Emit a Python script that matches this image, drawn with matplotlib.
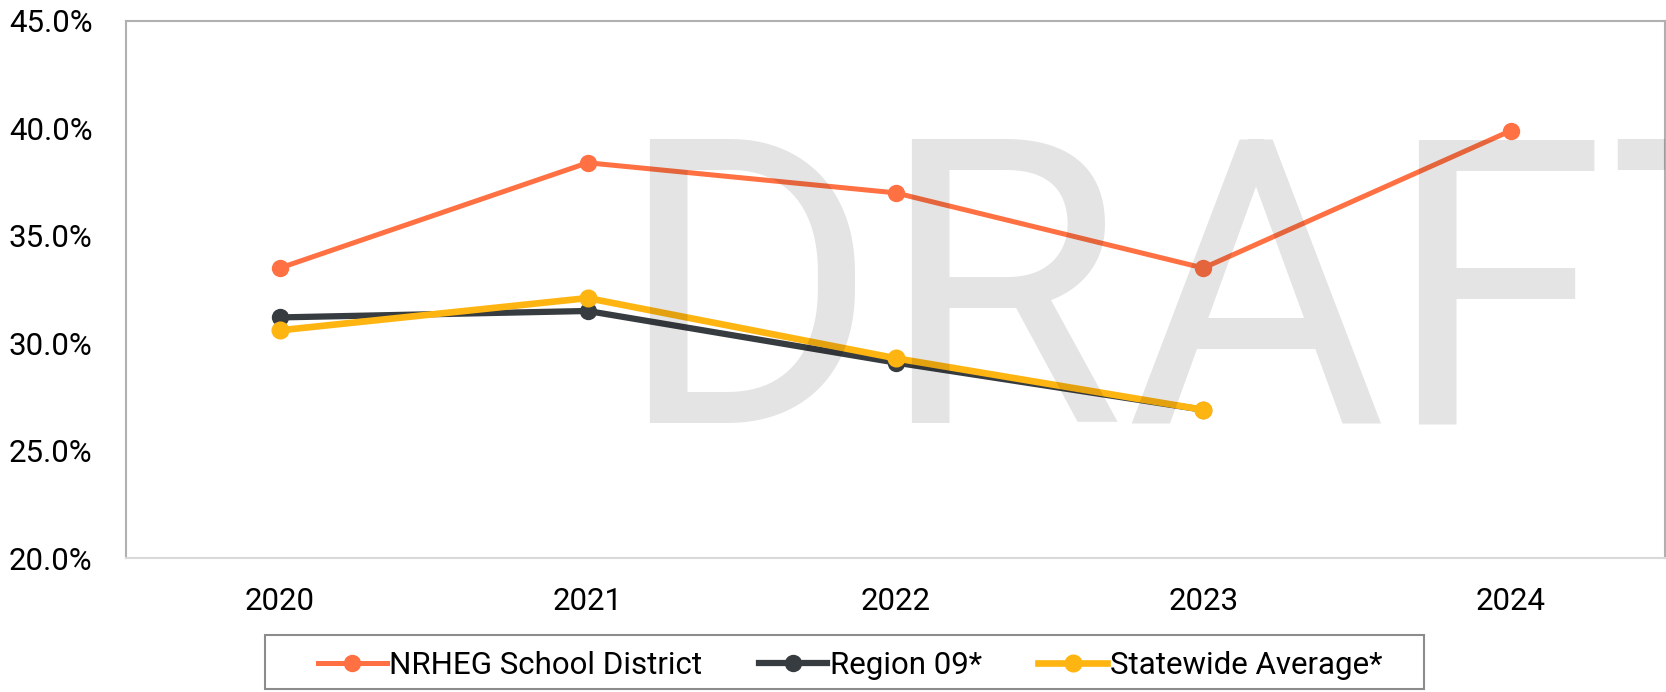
import matplotlib.pyplot as plt
from matplotlib.ticker import FuncFormatter
from matplotlib.patches import Rectangle
from matplotlib.textpath import TextPath
from matplotlib.font_manager import FontProperties

plt.rcParams['font.family'] = ['Roboto', 'DejaVu Sans']

# Данные
years = ['2020', '2021', '2022', '2023', '2024']
nrheg = [33.5, 38.4, 37.0, 33.5, 39.9]
region09 = [31.2, 31.5, 29.1, 26.9, None]
statewide = [30.6, 32.1, 29.3, 26.9, None]
y_ticks = [20, 25, 30, 35, 40, 45]

W, H = 1666, 692
fig = plt.figure(figsize=(W / 100, H / 100), dpi=100)
fig.patch.set_facecolor('white')
ax = fig.add_axes([126 / W, (H - 558) / H, 1539 / W, 537 / H])

x = list(range(len(years)))


def clean(vals):
    xs = [i for i, v in zip(x, vals) if v is not None]
    ys = [v for v in vals if v is not None]
    return xs, ys


xs, ys = clean(region09)
ax.plot(xs, ys, color='#373c40', linewidth=4.5, marker='o', markersize=11.5,
        label='Region 09*', zorder=3)
xs, ys = clean(statewide)
ax.plot(xs, ys, color='#ffb511', linewidth=4.8, marker='o', markersize=12,
        label='Statewide Average*', zorder=4)
ax.plot(x, nrheg, color='#ff7043', linewidth=3.6, marker='o', markersize=11.5,
        label='NRHEG School District', zorder=5)

# Водяной знак DRAFT (буквы по отдельности, левый край глифа в пикселях)
wm_size = 287
wm_left = [649, 911, 1131, 1418, 1617]
wm_base = 423
fp = FontProperties(family='Roboto')
for ch, left in zip('DRAFT', wm_left):
    bear = TextPath((0, 0), ch, size=wm_size, prop=fp).get_extents().x0 * 100 / 72
    ax.text((left - bear) / W, (H - wm_base) / H, ch, transform=fig.transFigure,
            fontsize=wm_size, color='black', alpha=0.105,
            ha='left', va='baseline', zorder=10, clip_on=True)

ax.set_xlim(-0.5, 4.5)
ax.set_ylim(20, 45)
ax.set_xticks(x)
ax.set_xticklabels(years)
ax.set_yticks(y_ticks)
ax.yaxis.set_major_formatter(FuncFormatter(lambda v, p: f'{v:.1f}%'))
ax.tick_params(axis='both', length=0, labelsize=22.5, colors='black')
ax.tick_params(axis='y', pad=24)
ax.tick_params(axis='x', pad=21)

for s in ['left', 'top', 'right']:
    ax.spines[s].set_color('#b0b0b0')
    ax.spines[s].set_linewidth(1.5)
ax.spines['bottom'].set_color('#d9d9d9')
ax.spines['bottom'].set_linewidth(1.5)

# Легенда + рамка отдельно
h, l = ax.get_legend_handles_labels()
order = [2, 0, 1]
leg = fig.legend([h[i] for i in order], [l[i] for i in order],
                 loc='center', bbox_to_anchor=(850 / W, (H - 665) / H), ncol=3,
                 fontsize=22.5, frameon=False, handlelength=2.2,
                 columnspacing=1.8, handletextpad=0.08, borderpad=0.0)
fig.patches.append(Rectangle((265 / W, (H - 689) / H), (1424 - 265) / W, 54 / H,
                             transform=fig.transFigure, fill=False,
                             edgecolor='#8c8c8c', linewidth=1.5))

fig.savefig('out.png', dpi=100)
